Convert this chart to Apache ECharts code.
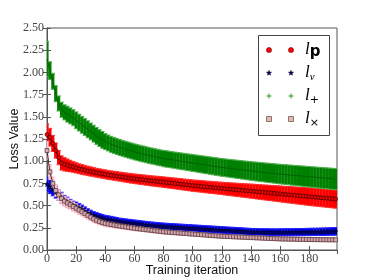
<!DOCTYPE html>
<html><head><meta charset="utf-8">
<script src="https://cdn.jsdelivr.net/npm/echarts@6/dist/echarts.min.js"></script>
<style>html,body{margin:0;padding:0;background:#fff}#c{width:374px;height:280px}</style>
</head><body><div id="c"></div>
<script>
const iters = [0,2,4,6,8,10,12,14,16,18,20,22,24,26,28,30,32,34,36,38,40,42,44,46,48,50,52,54,56,58,60,62,64,66,68,70,72,74,76,78,80,82,84,86,88,90,92,94,96,98,100,102,104,106,108,110,112,114,116,118,120,122,124,126,128,130,132,134,136,138,140,142,144,146,148,150,152,154,156,158,160,162,164,166,168,170,172,174,176,178,180,182,184,186,188,190,192,194,196,198];
const xTicks = [0,20,40,60,80,100,120,140,160,180];
const yTicks = [0,0.25,0.5,0.75,1,1.25,1.5,1.75,2,2.25,2.5];

const lpMean = [1.30,1.27,1.20,1.12,1.04,0.98,0.965,0.955,0.945,0.935,
0.925,0.915,0.907,0.899,0.891,0.884,0.877,0.870,0.864,0.858,
0.852,0.846,0.841,0.836,0.831,0.826,0.821,0.816,0.811,0.806,
0.802,0.798,0.794,0.790,0.786,0.782,0.778,0.775,0.771,0.768,
0.764,0.760,0.757,0.753,0.749,0.745,0.741,0.737,0.733,0.729,
0.725,0.722,0.719,0.716,0.712,0.709,0.706,0.703,0.700,0.697,
0.694,0.690,0.687,0.684,0.681,0.678,0.675,0.672,0.669,0.666,
0.663,0.660,0.656,0.653,0.650,0.647,0.644,0.641,0.638,0.635,
0.632,0.628,0.625,0.622,0.619,0.616,0.613,0.610,0.607,0.604,
0.601,0.598,0.595,0.592,0.589,0.586,0.583,0.580,0.577,0.574];
const lpErr = [0.12,0.10,0.09,0.085,0.08,0.08,0.075,0.07,0.065,0.06,
0.058,0.056,0.055,0.054,0.053,0.052,0.051,0.050,0.050,0.050,
0.050,0.050,0.050,0.050,0.051,0.051,0.052,0.052,0.053,0.053,
0.054,0.054,0.055,0.055,0.056,0.056,0.057,0.057,0.058,0.058,
0.059,0.059,0.060,0.060,0.061,0.061,0.062,0.062,0.063,0.063,
0.064,0.064,0.065,0.065,0.066,0.066,0.067,0.067,0.068,0.068,
0.069,0.070,0.071,0.072,0.073,0.074,0.075,0.076,0.077,0.078,
0.079,0.080,0.081,0.082,0.083,0.084,0.085,0.086,0.087,0.088,
0.089,0.090,0.091,0.092,0.093,0.094,0.095,0.096,0.097,0.098,
0.099,0.100,0.100,0.100,0.101,0.101,0.102,0.102,0.103,0.103];

const lvMean = [0.74,0.71,0.68,0.65,0.62,0.59,0.56,0.54,0.52,0.50,
0.49,0.475,0.46,0.44,0.42,0.405,0.39,0.38,0.37,0.36,
0.35,0.345,0.34,0.333,0.327,0.32,0.316,0.312,0.308,0.304,
0.30,0.296,0.292,0.288,0.284,0.28,0.277,0.274,0.271,0.268,
0.265,0.263,0.261,0.259,0.257,0.255,0.253,0.251,0.249,0.247,
0.245,0.243,0.241,0.239,0.237,0.235,0.233,0.231,0.229,0.227,
0.225,0.223,0.221,0.219,0.217,0.215,0.213,0.211,0.209,0.207,
0.205,0.204,0.203,0.202,0.201,0.200,0.200,0.199,0.199,0.199,
0.199,0.199,0.200,0.200,0.200,0.201,0.201,0.202,0.202,0.203,
0.203,0.204,0.204,0.205,0.205,0.206,0.207,0.208,0.209,0.210];
const lvErr = [0.08,0.075,0.07,0.065,0.06,0.06,0.055,0.055,0.05,0.05,
0.05,0.048,0.046,0.045,0.044,0.043,0.042,0.041,0.040,0.040,
0.040,0.040,0.039,0.039,0.039,0.038,0.038,0.038,0.038,0.038,
0.038,0.038,0.038,0.038,0.038,0.038,0.038,0.038,0.038,0.038,
0.038,0.038,0.038,0.038,0.038,0.038,0.038,0.038,0.038,0.038,
0.038,0.038,0.038,0.038,0.038,0.038,0.038,0.038,0.038,0.038,
0.038,0.038,0.038,0.038,0.038,0.038,0.038,0.038,0.038,0.038,
0.038,0.038,0.038,0.038,0.039,0.039,0.039,0.039,0.039,0.039,
0.040,0.040,0.040,0.040,0.040,0.040,0.040,0.040,0.040,0.040,
0.041,0.041,0.041,0.041,0.042,0.042,0.042,0.042,0.043,0.043];

const lplusMean = [2.15,2.02,1.90,1.76,1.65,1.58,1.55,1.53,1.51,1.49,
1.46,1.435,1.41,1.385,1.36,1.335,1.31,1.285,1.26,1.24,
1.22,1.205,1.19,1.178,1.166,1.155,1.145,1.135,1.125,1.115,
1.105,1.097,1.089,1.081,1.073,1.065,1.058,1.051,1.044,1.037,
1.03,1.025,1.02,1.015,1.01,1.005,1.0,0.995,0.99,0.985,
0.98,0.975,0.97,0.965,0.96,0.955,0.95,0.945,0.94,0.935,
0.93,0.926,0.922,0.918,0.914,0.91,0.906,0.902,0.898,0.894,
0.89,0.886,0.883,0.879,0.876,0.872,0.869,0.865,0.862,0.858,
0.855,0.852,0.849,0.846,0.843,0.84,0.837,0.834,0.831,0.828,
0.825,0.822,0.819,0.816,0.813,0.81,0.807,0.804,0.801,0.798];
const lplusErr = [0.20,0.10,0.09,0.09,0.085,0.085,0.085,0.09,0.09,0.09,
0.095,0.095,0.095,0.095,0.095,0.095,0.095,0.095,0.095,0.095,
0.09,0.09,0.09,0.09,0.09,0.09,0.09,0.09,0.09,0.09,
0.09,0.09,0.09,0.09,0.09,0.09,0.09,0.09,0.09,0.09,
0.092,0.092,0.092,0.092,0.092,0.093,0.093,0.093,0.094,0.094,
0.095,0.095,0.096,0.096,0.097,0.097,0.098,0.098,0.099,0.099,
0.10,0.10,0.10,0.101,0.101,0.102,0.102,0.103,0.103,0.104,
0.105,0.105,0.106,0.106,0.107,0.107,0.108,0.108,0.109,0.109,
0.11,0.11,0.111,0.111,0.112,0.112,0.113,0.113,0.114,0.114,
0.115,0.115,0.116,0.116,0.117,0.117,0.118,0.118,0.119,0.119];

const lxMean = [1.12,0.88,0.75,0.67,0.62,0.58,0.55,0.53,0.51,0.49,
0.47,0.45,0.43,0.41,0.39,0.37,0.35,0.335,0.32,0.31,
0.30,0.293,0.287,0.281,0.275,0.27,0.265,0.26,0.255,0.25,
0.245,0.241,0.237,0.233,0.229,0.225,0.221,0.217,0.213,0.209,
0.205,0.202,0.2,0.197,0.195,0.192,0.19,0.187,0.185,0.182,
0.18,0.177,0.175,0.172,0.17,0.167,0.165,0.162,0.16,0.157,
0.155,0.154,0.152,0.151,0.149,0.148,0.146,0.145,0.143,0.142,
0.14,0.139,0.137,0.136,0.134,0.133,0.131,0.13,0.128,0.127,
0.125,0.124,0.124,0.123,0.122,0.122,0.121,0.12,0.12,0.119,
0.118,0.118,0.117,0.117,0.116,0.116,0.115,0.115,0.115,0.114];
const lxErr = [0.10,0.08,0.07,0.065,0.06,0.06,0.055,0.055,0.05,0.05,
0.05,0.048,0.046,0.044,0.042,0.04,0.038,0.036,0.035,0.034,
0.033,0.032,0.031,0.03,0.03,0.029,0.029,0.028,0.028,0.027,
0.027,0.026,0.026,0.026,0.025,0.025,0.025,0.025,0.024,0.024,
0.024,0.024,0.023,0.023,0.023,0.023,0.023,0.022,0.022,0.022,
0.022,0.022,0.022,0.022,0.021,0.021,0.021,0.021,0.021,0.021,
0.021,0.021,0.021,0.021,0.021,0.021,0.021,0.021,0.021,0.021,
0.021,0.021,0.021,0.021,0.021,0.021,0.021,0.021,0.021,0.021,
0.021,0.021,0.021,0.021,0.021,0.021,0.021,0.021,0.021,0.021,
0.021,0.021,0.021,0.021,0.021,0.021,0.021,0.021,0.021,0.021];

const chart = echarts.init(document.getElementById('c'), null, {renderer:'canvas'});
const AX = '#555';
const starPath = 'path://M50,0 L61,35 L98,35 L68,57 L79,91 L50,70 L21,91 L32,57 L2,35 L39,35 Z';

function errSeries(mean, err, color, capColor){
  return {
    type:'custom', clip:true, silent:true,
    data: iters.map((x,i)=>[x, mean[i]-err[i], mean[i]+err[i]]),
    encode:{x:0,y:[1,2]},
    renderItem:function(params, api){
      const p1 = api.coord([api.value(0), api.value(1)]);
      const p2 = api.coord([api.value(0), api.value(2)]);
      const cw = 2.2;
      return {type:'group', children:[
        {type:'line', shape:{x1:p1[0],y1:p1[1],x2:p2[0],y2:p2[1]}, style:{stroke:color, lineWidth:3.2}},
        {type:'line', shape:{x1:p1[0]-cw,y1:p1[1],x2:p1[0]+cw,y2:p1[1]}, style:{stroke:capColor, lineWidth:1}},
        {type:'line', shape:{x1:p2[0]-cw,y1:p2[1],x2:p2[0]+cw,y2:p2[1]}, style:{stroke:capColor, lineWidth:1}}
      ]};
    }
  };
}
function lineSeries(mean, lineColor, symbol, size, fill, border, bw){
  return {
    type:'line', silent:true, animation:false,
    data: iters.map((x,i)=>[x, mean[i]]),
    symbol:symbol, symbolSize:size, showSymbol:symbol!=='none',
    lineStyle:{color:lineColor, width:1},
    itemStyle:{color:fill, borderColor:border, borderWidth:bw},
    z:3
  };
}

const L = {x:258, y:35, w:71, h:100};
const rows = [50, 73, 96, 119];
const mx = [269, 291];
const legendChildren = [
  {type:'rect', shape:{x:L.x+0.5, y:L.y+0.5, width:L.w, height:L.h}, style:{fill:'#fff', stroke:'#444', lineWidth:1}}
];
mx.forEach(x=>{
  legendChildren.push({type:'circle', shape:{cx:x, cy:rows[0], r:2.6}, style:{fill:'#ff0000', stroke:'#600', lineWidth:0.5}});
  const pts=[]; for(let k=0;k<10;k++){const r=k%2?1.2:2.8; const a=-Math.PI/2+k*Math.PI/5; pts.push([x+r*Math.cos(a), rows[1]+r*Math.sin(a)]);}
  legendChildren.push({type:'polygon', shape:{points:pts}, style:{fill:'#000080', stroke:'#000', lineWidth:0.4}});
  legendChildren.push({type:'line', shape:{x1:x-2.5,y1:rows[2],x2:x+2.5,y2:rows[2]}, style:{stroke:'#22a022', lineWidth:1}});
  legendChildren.push({type:'line', shape:{x1:x,y1:rows[2]-2.5,x2:x,y2:rows[2]+2.5}, style:{stroke:'#22a022', lineWidth:1}});
  legendChildren.push({type:'rect', shape:{x:x-2.5, y:rows[3]-2.5, width:5, height:5}, style:{fill:'#e8b4bc', stroke:'#553', lineWidth:0.7}});
});
const labelRich = {
  l:{fontFamily:'Liberation Serif', fontStyle:'italic', fontSize:17, color:'#111'},
  pb:{fontFamily:'DejaVu Sans', fontWeight:'bold', fontSize:15, color:'#111', padding:[4,0,0,0]},
  s:{fontFamily:'Liberation Serif', fontStyle:'italic', fontSize:11, color:'#333', padding:[8,0,0,0]},
  sn:{fontFamily:'DejaVu Sans', fontSize:11, color:'#333', padding:[8,0,0,0]}
};
const labels = ['{l|l}{pb|p}', '{l|l}{s|v}', '{l|l}{sn|+}', '{l|l}{sn|×}'];
labels.forEach((t,i)=>{
  legendChildren.push({type:'text', x:305, y:rows[i], style:{text:t, rich:labelRich, verticalAlign:'middle', align:'left'}});
});

const common = {min:0, max:199, interval:20};
chart.setOption({
  animation:false,
  backgroundColor:'#fff',
  grid:{left:47, right:37, top:28, bottom:30, outerBoundsMode:'none', containLabel:false,
    show:true, borderColor:AX, borderWidth:1, backgroundColor:'transparent'},
  xAxis:[
    Object.assign({type:'value', position:'bottom',
      name:'Training iteration', nameLocation:'middle', nameGap:14, nameMoveOverlap:false,
      nameTextStyle:{fontFamily:'Liberation Sans', fontSize:12.5, color:'#111'},
      axisLine:{show:true, lineStyle:{color:AX}},
      axisTick:{show:true, inside:true, length:4, lineStyle:{color:AX}},
      axisLabel:{show:true, margin:3, fontFamily:'Liberation Serif', fontSize:12, color:'#444',
        showMaxLabel:false},
      splitLine:{show:false}}, common),
    Object.assign({type:'value', position:'top',
      axisLine:{show:true, lineStyle:{color:AX}},
      axisTick:{show:true, inside:true, length:4, lineStyle:{color:AX}},
      axisLabel:{show:false}, splitLine:{show:false}}, common)
  ],
  yAxis:[
    {type:'value', min:0, max:2.5, interval:0.25, position:'left',
      name:'Loss Value', nameLocation:'middle', nameGap:26, nameMoveOverlap:false,
      nameTextStyle:{fontFamily:'Liberation Sans', fontSize:12.5, color:'#111'},
      axisLine:{show:true, lineStyle:{color:AX}},
      axisTick:{show:true, inside:true, length:4, lineStyle:{color:AX}},
      axisLabel:{margin:3, fontFamily:'Liberation Serif', fontSize:12, color:'#444',
        formatter:v=>v.toFixed(2)},
      splitLine:{show:false}},
    {type:'value', min:0, max:2.5, interval:0.25, position:'right',
      axisLine:{show:true, lineStyle:{color:AX}},
      axisTick:{show:true, inside:true, length:4, lineStyle:{color:AX}},
      axisLabel:{show:false}, splitLine:{show:false}}
  ],
  series:[
    errSeries(lpMean, lpErr, '#ff0000', '#ff3030'),
    lineSeries(lpMean, '#300000', 'circle', 4, '#ee0000', '#200', 0.6),
    errSeries(lvMean, lvErr, '#0000ff', '#2020ff'),
    lineSeries(lvMean, '#000000', starPath, 5, '#000080', '#000', 0.4),
    errSeries(lplusMean, lplusErr, '#008000', '#50b050'),
    lineSeries(lplusMean, '#006000', 'none', 0, '#008000', '#008000', 0),
    errSeries(lxMean, lxErr, '#ffc0cb', '#ffb0c0'),
    lineSeries(lxMean, '#3a2a2a', 'rect', 4, '#d8a8b0', '#4a3535', 0.7)
  ],
  graphic:[{type:'group', z:100, children:legendChildren}]
});
</script></body></html>
